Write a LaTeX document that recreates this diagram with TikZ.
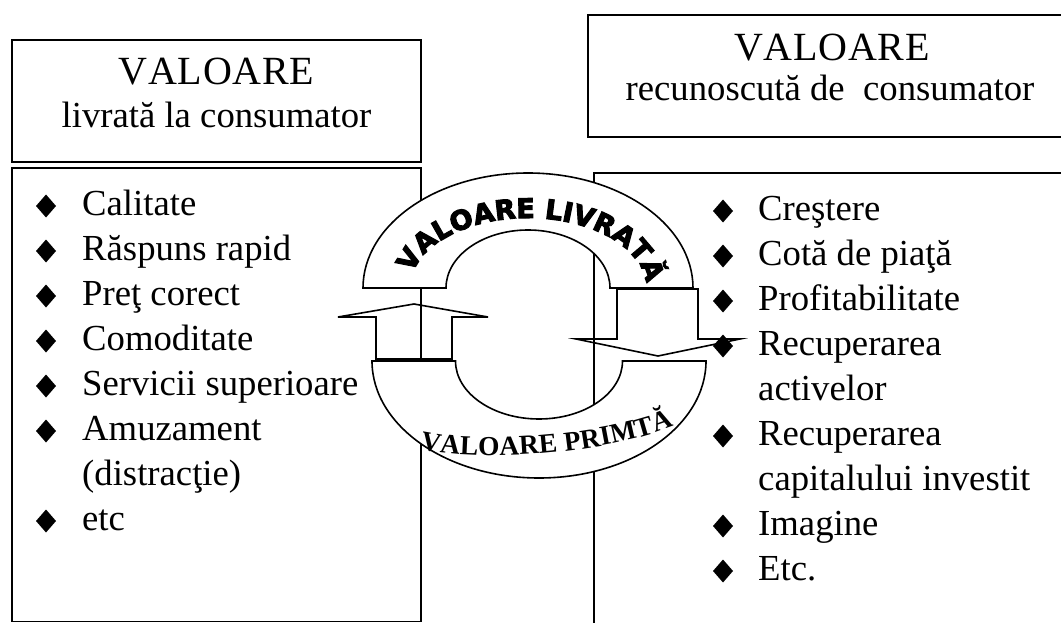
\documentclass[tikz,border=0pt]{standalone}
\usepackage{fontspec}
\setmainfont{Liberation Serif}
\newfontfamily\arcsans{DejaVu Sans}[BoldFeatures={FakeBold=4}]
\newfontfamily\arcserif{Liberation Serif}
\usetikzlibrary{decorations.text}

\newcommand\arcupfont{\arcsans\bfseries\fontsize{27}{27}\selectfont}
\newcommand\arcdownfont{\arcserif\bfseries\fontsize{27.5}{27.5}\selectfont}

\tikzset{
  frame/.style={draw=black, line width=1.8pt},
  blockarc/.style={draw=black, fill=white, line width=1.6pt},
  hollowarrow/.style={draw=black, line width=1.6pt, line join=miter},
  headword/.style={inner sep=0pt, anchor=base,
    font=\fontsize{40}{40}\selectfont\addfontfeature{Kerning=Off,LetterSpace=2}},
  headline/.style={inner sep=0pt, anchor=base, font=\fontsize{36.7}{44}\selectfont},
  itemtext/.style={inner sep=0pt, anchor=base west, font=\fontsize{36.7}{44}\selectfont},
  diamondbullet/.pic={\fill (0,11.5) -- (10,0) -- (0,-11.5) -- (-10,0) -- cycle;}
}

\begin{document}
\begin{tikzpicture}[x=1pt, y=1pt]
\useasboundingbox (0,0) rectangle (1061,-623);
\clip (0,0) rectangle (1061,-623);

% frames: headers and lists
\draw[frame] (12,-40) rectangle (421,-162);
\draw[frame] (12,-168) rectangle (421,-621.5);
\draw[frame] (588,-15) rectangle (1080,-137);
\draw[frame] (594,-173) rectangle (1080,-640);

% header texts
\node[headword] (lhA) at (216.5,-85) {VALOARE};
\node[headline] (lhB) at (216.5,-128) {livrată la consumator};
\node[headword] (rhA) at (832,-61) {VALOARE};
\node[headline] (rhB) at (830,-101) {recunoscută de~ consumator};

% hollow arrows
\draw[hollowarrow] (376,-359) -- (376,-317) -- (338,-317) -- (414,-304)
  -- (488,-317) -- (452,-317) -- (452,-359) -- cycle;
\draw[hollowarrow] (617,-289) -- (617,-339) -- (576,-339) -- (658,-356)
  -- (740,-339) -- (698,-339) -- (698,-289) -- cycle;

% block arcs
\path[blockarc] (363,-288) arc[start angle=180, end angle=0, x radius=165pt, y radius=115pt]
  -- (610,-288) arc[start angle=0, end angle=180, x radius=82pt, y radius=58pt] -- cycle;
\path[blockarc] (372,-361) arc[start angle=180, end angle=360, x radius=167pt, y radius=117pt]
  -- (622.5,-361) arc[start angle=0, end angle=-180, x radius=83.5pt, y radius=58pt] -- cycle;

% curved labels
\begin{scope}
\path[decorate, decoration={text along path, text align=fit to path,
    text={|\arcdownfont|VALOARE PRIMTĂ}}]
  (420,-449) .. controls (475,-462) and (600,-456) .. (674,-426);
\end{scope}
\begin{scope}
\path[decorate, decoration={text along path, text align=fit to path,
    text={|\arcupfont|VALOARE LIVRATĂ}}]
  (412.6,-273.45) arc[start angle=168, end angle=12, x radius=118pt, y radius=70pt];
\end{scope}

% left list
\foreach \b in {215,260,305,350,395,440,530}
  \pic at (46,{9-\b}) {diamondbullet};
\node[itemtext] (la) at (82,-215) {Calitate};
\node[itemtext] (lb) at (82,-260) {Răspuns rapid};
\node[itemtext] (lc) at (82,-305) {Preţ corect};
\node[itemtext] (ld) at (82,-350) {Comoditate};
\node[itemtext] (le) at (82,-395) {Servicii superioare};
\node[itemtext] (lf) at (82,-440) {Amuzament};
\node[itemtext] (lg) at (82,-485) {(distracţie)};
\node[itemtext] (lh) at (82,-530) {etc};

% right list
\foreach \b in {220,265,310,355,445,535,580}
  \pic at (723,{9-\b}) {diamondbullet};
\node[itemtext] (ra) at (758,-220) {Creştere};
\node[itemtext] (rb) at (758,-265) {Cotă de piaţă};
\node[itemtext] (rc) at (758,-310) {Profitabilitate};
\node[itemtext] (rd) at (758,-355) {Recuperarea};
\node[itemtext] (re) at (758,-400) {activelor};
\node[itemtext] (rf) at (758,-445) {Recuperarea};
\node[itemtext] (rg) at (758,-490) {capitalului investit};
\node[itemtext] (rh) at (758,-535) {Imagine};
\node[itemtext] (ri) at (758,-580) {Etc.};
\end{tikzpicture}
\end{document}
